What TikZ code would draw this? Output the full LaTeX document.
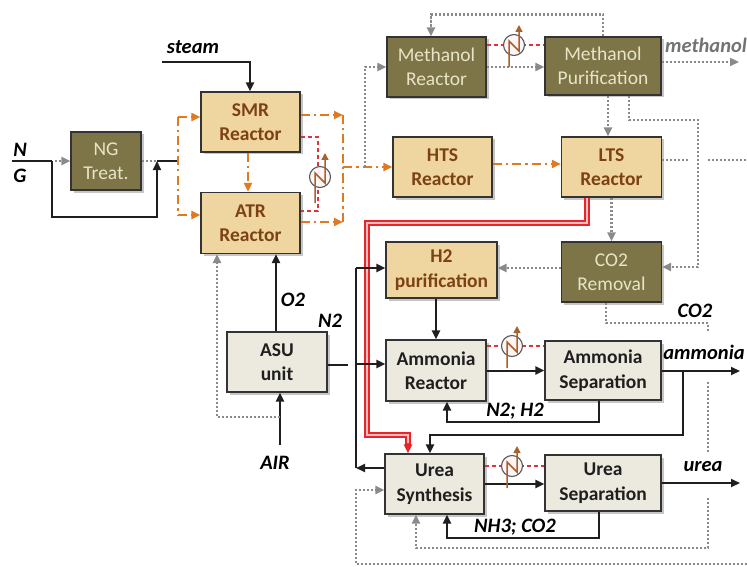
\documentclass[tikz,border=0pt]{standalone}
\usepackage{fontspec}
\setmainfont{Carlito}
\usetikzlibrary{arrows.meta,shadows,calc}
\definecolor{boxolive}{HTML}{7D7548}
\definecolor{olivetext}{HTML}{E8E4C6}
\definecolor{tanfill}{HTML}{EFD59F}
\definecolor{tantext}{HTML}{7C4214}
\definecolor{greyfill}{HTML}{ECE9DF}
\definecolor{orangec}{HTML}{E07A22}
\definecolor{redc}{HTML}{D9363E}
\definecolor{hxbrown}{HTML}{A8602C}
\definecolor{dotgrey}{HTML}{8A8A8A}
\definecolor{redline}{HTML}{E8262A}
\tikzset{
  box/.style={draw=black!80, line width=1.2pt, inner sep=0pt, align=center,
    font=\fontsize{19.5}{24.5}\selectfont,
    drop shadow={shadow xshift=2.5pt, shadow yshift=-2.5pt, opacity=0.45}},
  olivebox/.style={box, fill=boxolive, text=olivetext},
  tanbox/.style={box, fill=tanfill, text=tantext, font=\fontsize{19.5}{24.5}\selectfont\bfseries},
  greybox/.style={box, fill=greyfill, text=black!88, font=\fontsize{19.5}{24.5}\selectfont\bfseries},
  sz/.style 2 args={minimum width=#1pt, minimum height=#2pt},
  arr/.style={-{Triangle[length=9pt,width=8pt]}},
  blk/.style={line width=2pt, black!88},
  dotl/.style={line width=2.8pt, dotgrey, dash pattern=on 2.2pt off 1.8pt},
  orn/.style={line width=2.4pt, orangec, dash pattern=on 9pt off 4pt on 2.5pt off 4pt},
  redd/.style={line width=1.1pt, redc, dash pattern=on 4pt off 3pt},
  hxc/.style={circle, draw=black!65, line width=1.1pt, fill=pink!15, minimum size=21pt, inner sep=0pt},
  hxa/.style={line width=1.5pt, hxbrown, -{Triangle[length=7pt,width=7pt]}},
  lbl/.style={font=\fontsize{20.5}{22}\selectfont\bfseries\itshape, inner sep=0pt},
  dbl/.style={line width=1.6pt, redline, double=red!25, double distance=2.2pt}
}
\begin{document}
\begin{tikzpicture}[x=1pt,y=-1pt]
\useasboundingbox (0,0) rectangle (747,567);
% boxes
\node[olivebox, sz={70}{58}] (ngt) at (106,161) {NG\\Treat.};
\node[tanbox, sz={99}{60}] (smr) at (250.5,122) {SMR\\Reactor};
\node[tanbox, sz={99}{61}] (atr) at (250.5,223) {ATR\\Reactor};
\node[olivebox, sz={99}{60}] (mr) at (436.5,67) {Methanol\\Reactor};
\node[olivebox, sz={116}{58}] (mp) at (603,66) {Methanol\\Purification};
\node[tanbox, sz={99}{60}] (hts) at (442.5,167) {HTS\\Reactor};
\node[tanbox, sz={100}{60}] (lts) at (611.5,167) {LTS\\Reactor};
\node[tanbox, sz={111}{56}] (h2) at (441.5,270) {H2\\purification};
\node[olivebox, sz={100}{60}] (co2) at (611.5,272) {CO2\\Removal};
\node[greybox, sz={100}{60}] (asu) at (277,362) {ASU\\unit};
\node[greybox, sz={100}{61}] (amr) at (436,370.5) {Ammonia\\Reactor};
\node[greybox, sz={116}{59}] (ams) at (603,370.5) {Ammonia\\Separation};
\node[greybox, sz={99}{60}] (urs) at (434.5,484) {Urea\\Synthesis};
\node[greybox, sz={116}{56}] (usep) at (603,483) {Urea\\Separation};
% labels
\node[lbl] (lsteam) at (193,47) {steam};
\node[lbl] (ln) at (20,150) {N};
\node[lbl] (lg) at (20,176) {G};
\node[lbl] (lo2) at (293,300) {O2};
\node[lbl] (ln2) at (330,321) {N2};
\node[lbl] (lair) at (275,463) {AIR};
\node[lbl, text=black!55] (lmeth) at (706,45) {methanol};
\node[lbl] (lco2) at (695,311) {CO2};
\node[lbl] (lamm) at (704,352) {ammonia};
\node[lbl] (lnh) at (515,411) {N2; H2};
\node[lbl] (lurea) at (703,467) {urea};
\node[lbl] (lnc) at (515,527) {NH3; CO2};
% NG feed
\coordinate (ngin) at (12,161);
\coordinate (ngs) at (52,161);
\coordinate (ngm) at (157,161);
\coordinate (ngo) at (178,161);
\draw[blk] (ngin) -- (ngs);
\draw[dotl, arr] ([xshift=3pt]ngs) -- (ngt.west);
\draw[blk, arr] (ngs) |- (157,217) -- (ngm);
\draw[dotl] (ngt.east) -- (ngm);
\draw[blk] (ngm) -- (ngo);
% orange distribution
\coordinate (ot) at (178,117);
\coordinate (ob) at (178,215);
\draw[orn] (ot) -- (ob);
\draw[orn, arr] (ot) -- (smr.west |- ot);
\draw[orn, arr] (ob) -- (atr.west |- ob);
\draw[orn, arr] ([xshift=-2.5pt]smr.south) -- ([xshift=-2.5pt]atr.north);
\coordinate (rt) at (343,115);
\coordinate (rb) at (343,222);
\coordinate (rm) at (343,167);
\draw[orn] (rt) -- (rb);
\draw[orn, arr] (smr.east |- rt) -- (rt);
\draw[orn, arr] (atr.east |- rb) -- (rb);
\draw[orn, arr] (rm) -- (hts.west);
% heat exchanger SMR/ATR
\draw[redd] ([yshift=-15pt]smr.east) -| (318,211) -- ([yshift=12pt]atr.east);
\node[hxc] (hx1) at (320,177) {};
\draw[hxa] ([shift={(-5,26)}]hx1.center) -- ++(0,-30) -- ++(10,10) -- ++(0,-30);
% methanol branch
\coordinate (mf) at (365,167);
\draw[dotl, arr] (mf) |- (mr.west);
\draw[dotl, arr] (mr.east) -- (mr.east -| mp.west);
\draw[dotl, arr] (mp.north) -- ++(0,-22) -| ([xshift=-5.5pt]mr.north);
\draw[redd] ([yshift=22pt]mr.east) -- ([yshift=22pt]mr.east -| mp.west);
\node[hxc] (hx2) at (514,45) {};
\draw[hxa] ([shift={(-5,22)}]hx2.center) -- ++(0,-26) -- ++(10,10) -- ++(0,-26);
\coordinate (mpout) at (739,62);
\draw[dotl, arr] (mp.east |- mpout) -- (mpout);
\draw[dotl, arr] ([xshift=5pt]mp.south) -- ([xshift=5pt]mp.south |- lts.north);
\draw[dotl, arr] ([xshift=26pt]mp.south) |- (698,120) -- (698,267) -- ([yshift=5pt]co2.east);
% HTS/LTS
\draw[orn, arr] ([yshift=3pt]hts.east) -- ([yshift=3pt]lts.west);
\coordinate (ltsout) at (747,160);
\draw[dotl] ([yshift=7pt]lts.east) -- (689,160);
\draw[dotl] (708,160) -- (ltsout);
\draw[dotl, arr] (lts.south) -- (co2.north);
\draw[dotl, arr] ([yshift=4pt]co2.west) -- ([yshift=4pt]co2.west -| h2.east);
% red hydrogen line
\draw[dbl] ([xshift=-24.5pt]lts.south) |- (367,223) |- (408,435) -- (408,446);
\draw[redline, line width=2pt, arr] (408,443) -- ([xshift=-26.5pt]urs.north);
% ASU
\coordinate (air) at (280,445);
\coordinate (airm) at (280,417);
\draw[blk, arr] (air) -- (air |- asu.south);
\draw[dotl, arr] (airm) -| ([xshift=-33.5pt]atr.south);
\draw[blk, arr] ([xshift=-1pt]asu.north) -- ([xshift=-1pt]asu.north |- atr.south);
\coordinate (n2end) at (348,365);
\draw[blk] (asu.east |- n2end) -- (n2end);
% steam
\coordinate (st) at (162,62);
\draw[blk, arr] (st) -| ([xshift=-0.5pt]smr.north);
% vertical distribution
\coordinate (vt) at (356,268);
\coordinate (vm) at (356,364);
\coordinate (vb) at (356,468);
\draw[blk] (vt) -- (vb);
\draw[blk, arr] (vt) -- (h2.west |- vt);
\draw[blk, arr] (vm) -- (amr.west |- vm);
\draw[blk, arr] ([yshift=16pt]urs.west) -- (vb);
% ammonia
\draw[blk, arr] ([xshift=-5.5pt]h2.south) -- ([xshift=-5.5pt]h2.south |- amr.north);
\draw[blk, arr] (amr.east) -- (amr.east -| ams.west);
\draw[redd] ([yshift=24.5pt]amr.east) -- ([yshift=24.5pt]amr.east -| ams.west);
\node[hxc] (hx3) at (512,346) {};
\draw[hxa] ([shift={(-5,22)}]hx3.center) -- ++(0,-26) -- ++(10,10) -- ++(0,-26);
\coordinate (amout) at (740,371);
\coordinate (amb) at (683,371);
\draw[blk, arr] (ams.east |- amout) -- (amout);
\draw[blk, arr] (amb) |- (430,435) -- ([xshift=-4.5pt]urs.north);
\draw[blk, arr] ([xshift=-4pt]ams.south) |- (447,422) -- ([xshift=11pt]amr.south);
% urea
\draw[blk, arr] (urs.east) -- (urs.east -| usep.west);
\draw[redd] ([yshift=18pt]urs.east) -- ([yshift=18pt]urs.east -| usep.west);
\node[hxc] (hx4) at (512,466) {};
\draw[hxa] ([shift={(-5,22)}]hx4.center) -- ++(0,-26) -- ++(10,10) -- ++(0,-26);
\coordinate (uout) at (740,483);
\draw[blk, arr] (usep.east) -- (uout);
\draw[blk, arr] ([xshift=-4pt]usep.south) |- (447,538) -- ([xshift=12.5pt]urs.south);
% CO2 dotted
\draw[dotl] ([xshift=-5.5pt]co2.south) |- (708,323) -- (708,332);
\draw[dotl] (708,382) -- (708,452);
\draw[dotl, arr] (708,498) |- (416,548) -- ([xshift=-18.5pt]urs.south);
\coordinate (botr) at (747,564);
\draw[dotl, arr] (botr) -| (356,490) -- ([yshift=-6pt]urs.west);
\end{tikzpicture}
\end{document}
